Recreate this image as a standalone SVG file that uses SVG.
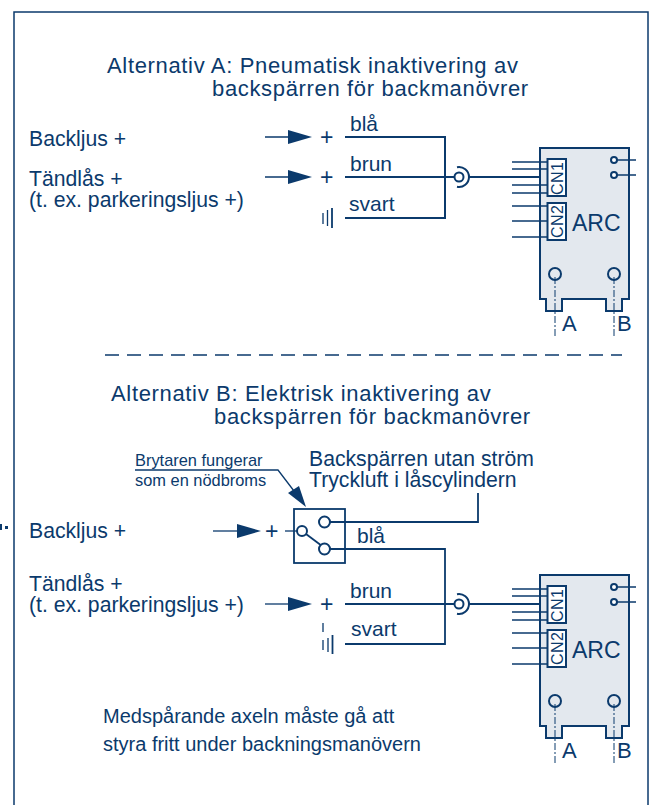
<svg xmlns="http://www.w3.org/2000/svg" width="652" height="805" viewBox="0 0 652 805">
<defs>
<style>
text{font-family:"Liberation Sans",Arial,sans-serif;fill:#0b3a6c}
.t{font-size:22px;letter-spacing:.66px}.m{font-size:21.200px}.r{font-size:20px}.s{font-size:16.400px}.w{font-size:21px}.p{font-size:23px}
.l{fill:none;stroke:#0b3a6c;stroke-width:2}
.n{fill:none;stroke:#0b3a6c;stroke-width:1.300}
.d{fill:none;stroke:#0b3a6c;stroke-width:1;stroke-dasharray:7 2 2 2}
.b{fill:#e3e8ee;stroke:#0b3a6c;stroke-width:2}
.c{fill:#fff;stroke:#0b3a6c;stroke-width:2}
.a{fill:#0b3a6c}
</style>
<g id="arcshape">
<path class="b" d="M540 148H629V299H622V311H606V299H562V311H546V299H540Z"/>
<rect class="c" x="547.500" y="159" width="18.500" height="37"/>
<rect class="c" x="547.500" y="203" width="18.500" height="37"/>
<path class="n" d="M512 162H547M512 169H547M512 185H547M512 193H547M512 206H547M512 221H547M512 237H547M614 160H636M614 175H636"/>
<circle class="c" cx="614" cy="160" r="3"/><circle class="c" cx="614" cy="175" r="3"/>
<circle class="b" cx="555" cy="274" r="6"/><circle class="b" cx="614" cy="274" r="6"/>
<path class="d" d="M555 277V336M614 277V336"/>
<text x="0" y="0" transform="translate(562.500,195) rotate(-90)" style="font-size:16px" textLength="33">CN1</text>
<text x="0" y="0" transform="translate(562.500,238) rotate(-90)" style="font-size:16px" textLength="33">CN2</text>
<text x="572" y="231" style="font-size:23px">ARC</text>
<text x="562" y="331" style="font-size:22px">A</text>
<text x="617" y="331" style="font-size:22px">B</text>
</g>
<g id="plug">
<path d="M464 177H468" fill="none" stroke="#fff" stroke-width="3"/>
<circle class="c" cx="459" cy="177" r="4.500"/>
<path class="l" d="M457 167.200A10 10 0 1 1 457 186.800"/>
</g>
<path id="arrow" class="a" d="M288 -7L312 0L288 7Z"/>
</defs>
<path id="sliver" d="M0 524h2v6h-2zM5 526h3v3h-3z" fill="#0b3a6c"/>
<rect id="frame" x="14" y="12" width="634" height="800" fill="none" stroke="#0b3a6c" stroke-width="1.500"/>
<g id="title-a">
<text class="t"><tspan x="107" y="72.500">Alternativ A: Pneumatisk inaktivering av</tspan><tspan x="212" y="95.500">backspärren för backmanövrer</tspan></text>
</g>
<g id="title-b">
<text class="t"><tspan x="111" y="400.500">Alternativ B: Elektrisk inaktivering av</tspan><tspan x="214" y="423.500">backspärren för backmanövrer</tspan></text>
</g>
<g id="connectors">
<path class="l" d="M345 137H445V218H345M345 177H547"/>
<path class="n" d="M265 137H290M265 177H290"/>
<use href="#arrow" y="137"/><use href="#arrow" y="177"/>
<path class="l" d="M105 355H622" stroke-dasharray="14 8" style="stroke-width:1.600"/>
<path class="n" d="M135 470H278L294 491"/>
<path class="a" d="M288 493L299 486L306 507Z"/>
<path class="n" d="M213 531H240"/>
<use href="#arrow" x="-51" y="531"/>
<path class="n" d="M285 531H297"/>
<path class="l" d="M329 522H478V493M329 549H445V644H345M345 604H547" style="stroke-width:1.800"/>
<path class="n" d="M265 604H290"/>
<use href="#arrow" y="604"/>
</g>
<g id="node-a-labels">
<text class="m" x="29" y="146">Backljus +</text>
<text class="m" x="29" y="186">Tändlås +</text>
<text class="m" x="29" y="207">(t. ex. parkeringsljus +)</text>
<text class="p" x="320" y="145">+</text>
<text class="p" x="320" y="185">+</text>
<text class="w" x="350" y="131">blå</text>
<text class="w" x="350" y="171">brun</text>
<text class="w" x="349" y="211">svart</text>
<path class="n" d="M323 213V224M327.500 210V226"/>
<path class="n" d="M332 208V228" style="stroke-width:1.800"/>
</g>
<g id="arc-a"><use href="#arcshape"/></g>
<g id="plug-a"><use href="#plug"/></g>
<g id="arc-b"><use href="#arcshape" y="427"/></g>
<g id="plug-b"><use href="#plug" y="427"/></g>
<g id="switch">
<rect x="294" y="509" width="51" height="54" fill="none" stroke="#0b3a6c" stroke-width="1.800"/>
<path class="l" d="M306 534L322 546" style="stroke-width:1.800"/>
<circle class="c" cx="302" cy="531" r="5"/>
<circle class="c" cx="324.500" cy="522" r="5.500"/>
<circle class="c" cx="324.500" cy="549" r="5.500"/>
</g>
<g id="node-b-labels">
<text class="s" x="135" y="466">Brytaren fungerar</text>
<text class="s" x="135" y="486">som en nödbroms</text>
<text class="m" x="309" y="466">Backspärren utan ström</text>
<text class="m" x="309" y="487">Tryckluft i låscylindern</text>
<text class="m" x="29" y="538">Backljus +</text>
<text class="p" x="265" y="539">+</text>
<text class="w" x="357" y="543">blå</text>
<text class="m" x="29" y="591">Tändlås +</text>
<text class="m" x="29" y="612">(t. ex. parkeringsljus +)</text>
<text class="p" x="320" y="612">+</text>
<text class="w" x="350" y="598">brun</text>
<text class="w" x="351" y="636">svart</text>
<path class="n" d="M323 623V632M323 640V650M328 638V652"/>
<path class="n" d="M332.500 635V654" style="stroke-width:1.800"/>
<text class="r" x="103" y="723">Medspårande axeln måste gå att</text>
<text class="r" x="103" y="751">styra fritt under backningsmanövern</text>
</g>
</svg>
